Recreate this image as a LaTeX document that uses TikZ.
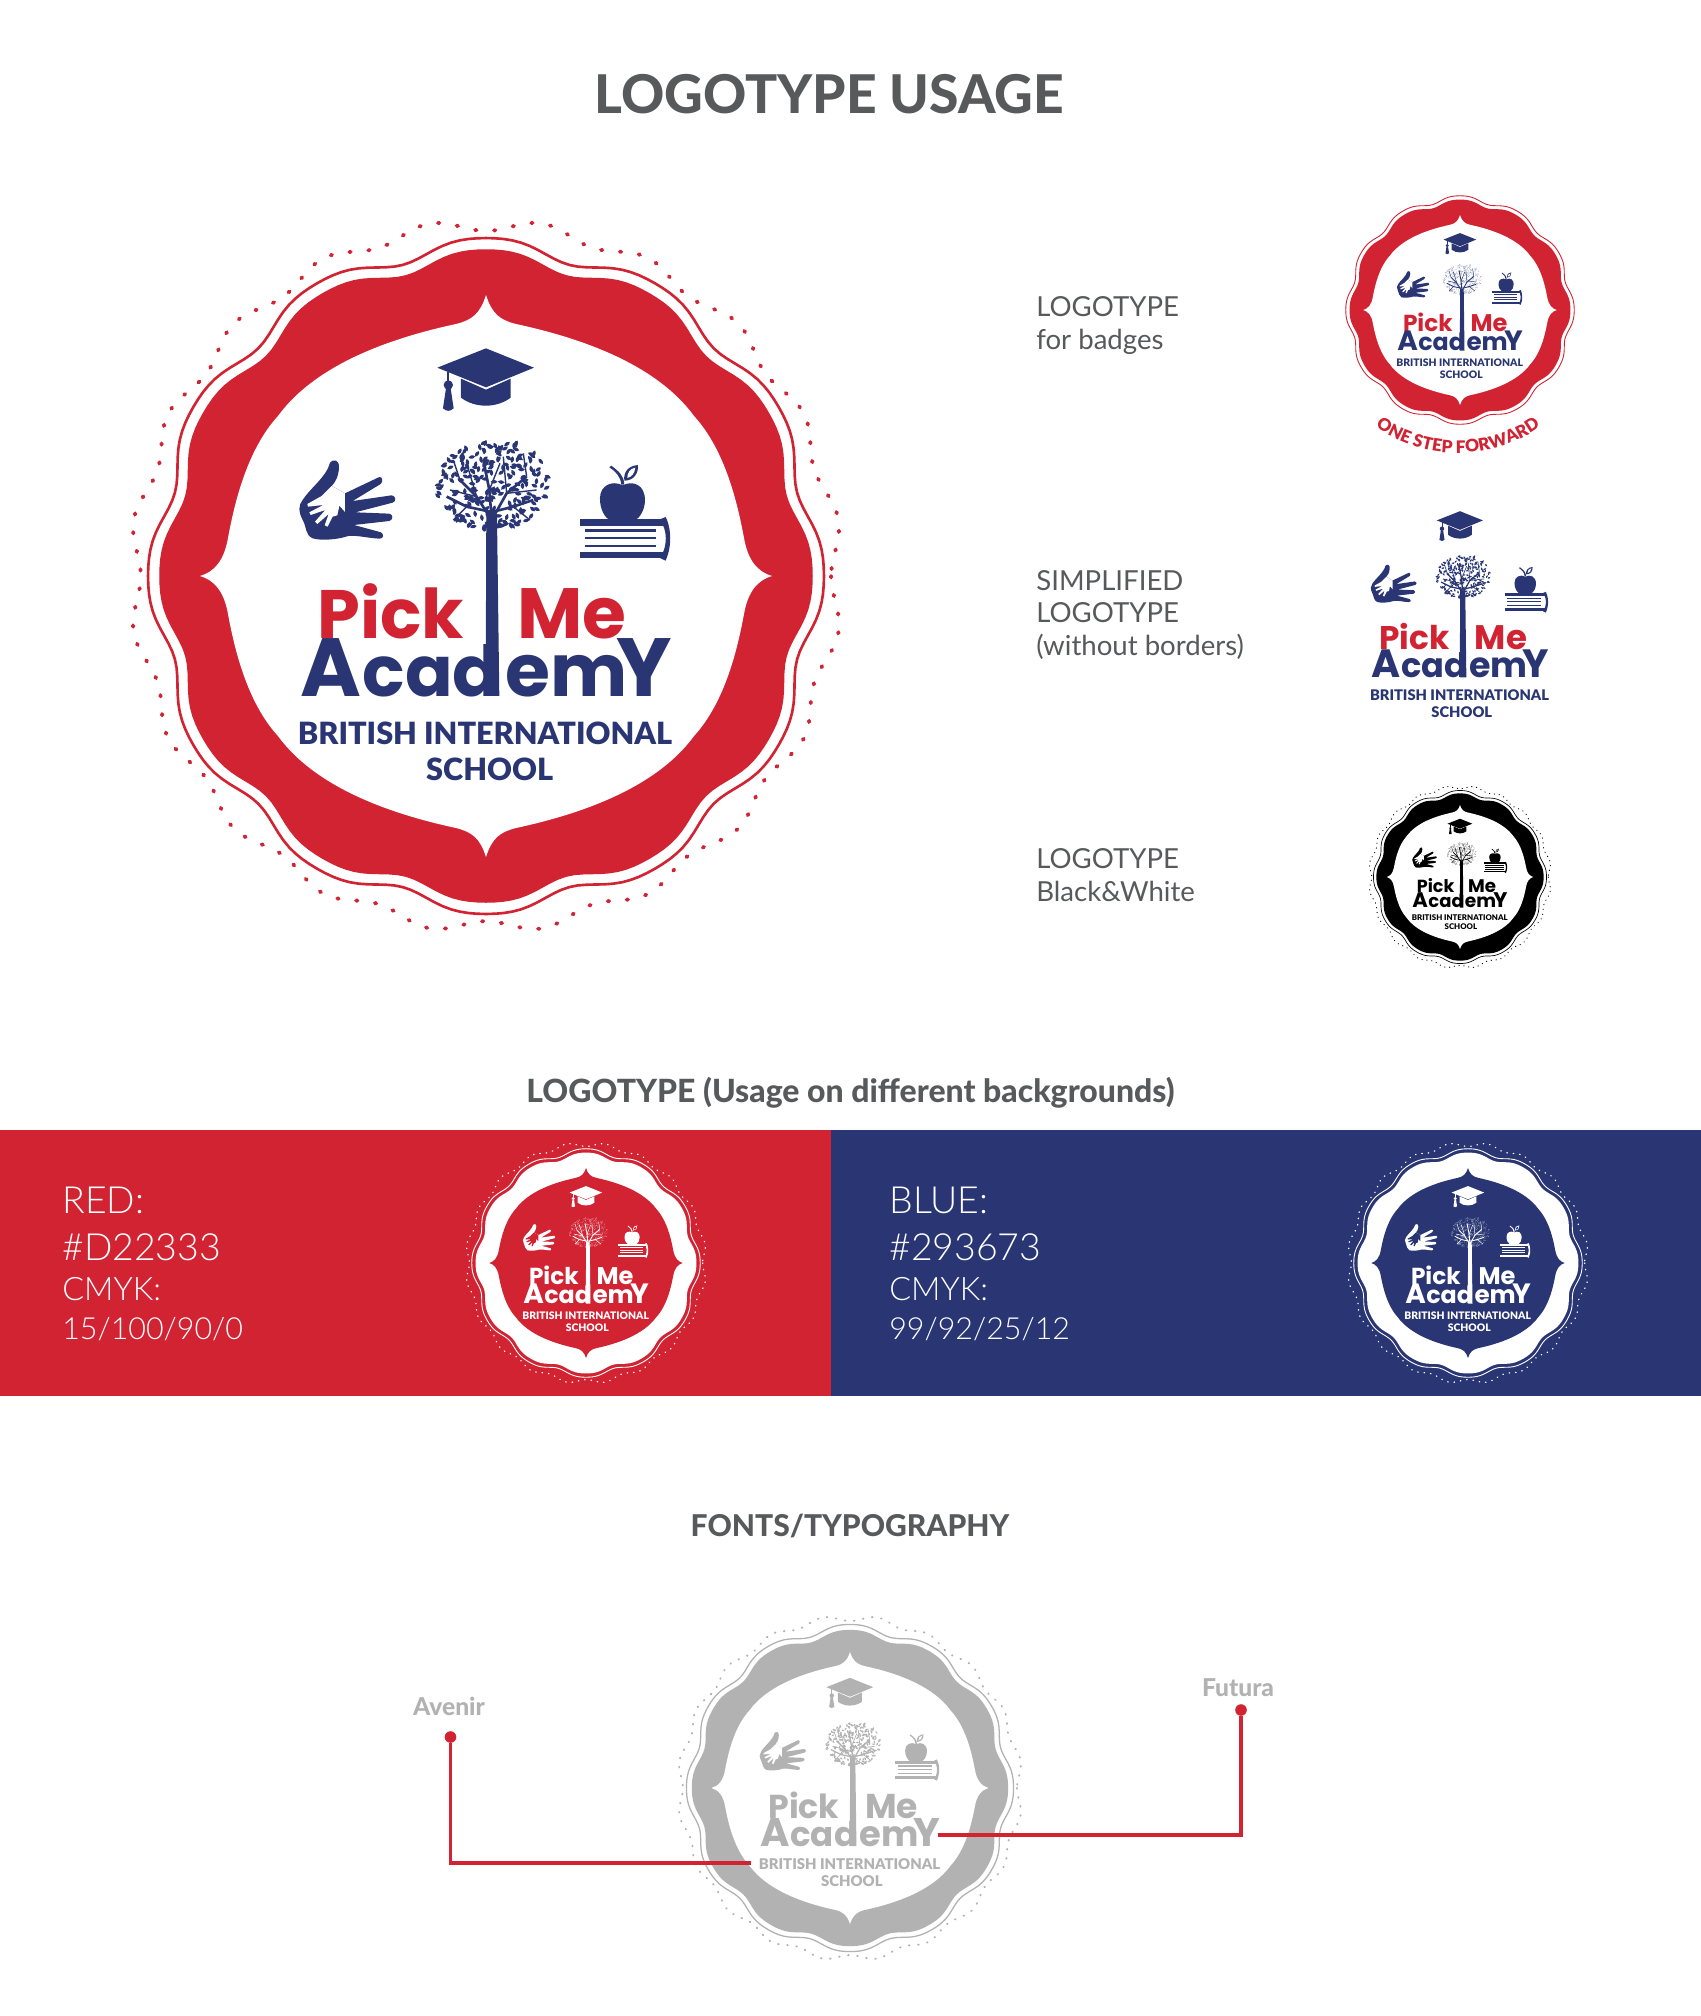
\documentclass[tikz,border=0pt]{standalone}
\usepackage{fontspec}
\usetikzlibrary{positioning, decorations.text}
\setmainfont{Lato}
\newfontfamily\logofont{Poppins}
\newfontfamily\lightfont{Lato Light}
\newfontfamily\heavyfont{Lato Black}
\newfontfamily\headfont{Lato Heavy}
\definecolor{brandred}{HTML}{D22333}
\definecolor{brandblue}{HTML}{293673}
\definecolor{inkgrey}{HTML}{58595B}
\definecolor{palegrey}{HTML}{B2B2B2}

% scalloped outline: mean radius, two amplitudes, turn
\newcommand{\scallop}[4]{plot[domain=0:360,samples=241]
  ({(#1)*(1+#2*cos(12*(\x+#4))+#3*cos(24*(\x+#4)))*cos(\x)},
   {(#1)*(1+#2*cos(12*(\x+#4))+#3*cos(24*(\x+#4)))*sin(\x)})}

% thin line, ring and inner field: x, y, scale, ring, inside, line
\newcommand{\logoring}[6]{%
  \pgfmathsetlengthmacro\ringwd{#3*1.5pt}
  \begin{scope}[shift={(#1,#2)},scale=#3]
    \draw[#6,line width=\ringwd] \scallop{331.5}{0.024}{-0.0045}{0} -- cycle;
    \fill[#4] \scallop{320.5}{0.024}{-0.0045}{0} -- cycle;
    \fill[#5] (0,-281) .. controls (6,-262) and (14,-256) .. (30,-252)
      .. controls (95,-238) and (170,-212) .. (208,-160)
      .. controls (240,-125) and (252,-70) .. (258,-38)
      .. controls (262,-15) and (272,-4) .. (286,0)
      .. controls (272,4) and (262,15) .. (258,38)
      .. controls (252,70) and (240,125) .. (208,160)
      .. controls (170,212) and (95,238) .. (30,252)
      .. controls (14,256) and (6,262) .. (0,281)
      .. controls (-6,262) and (-14,256) .. (-30,252)
      .. controls (-95,238) and (-170,212) .. (-208,160)
      .. controls (-240,125) and (-252,70) .. (-258,38)
      .. controls (-262,15) and (-272,4) .. (-286,0)
      .. controls (-272,-4) and (-262,-15) .. (-258,-38)
      .. controls (-252,-70) and (-240,-125) .. (-208,-160)
      .. controls (-170,-212) and (-95,-238) .. (-30,-252)
      .. controls (-14,-256) and (-6,-262) .. (0,-281) -- cycle;
  \end{scope}}

% dotted outer line: x, y, scale, colour
\newcommand{\logodots}[4]{%
  \pgfmathsetlengthmacro\dotwd{#3*2.2pt}
  \pgfmathsetlengthmacro\dotlen{#3*0.8pt}
  \pgfmathsetlengthmacro\dotgap{#3*10pt}
  \begin{scope}[shift={(#1,#2)},scale=#3]
    \draw[#4,line width=\dotwd,line cap=round,dash pattern=on \dotlen off \dotgap]
      plot[domain=0:360,samples=241] ({351*(1+0.017*cos(20*(\x+9)))*cos(\x)},{351*(1+0.017*cos(20*(\x+9)))*sin(\x)}) -- cycle;
  \end{scope}}

% cap, hand, tree, apple, book and words: name, x, y, scale, Pick Me, rest, inside
\newcommand{\logomark}[7]{%
  \pgfmathsetlengthmacro\branchwd{#4*1.5pt}
  \pgfmathsetlengthmacro\twigwd{#4*0.8pt}
  \begin{scope}[shift={(#2,#3)},scale=#4,transform shape]
    \begin{scope}[shift={(-206,-246)},scale=0.3333]
      % cap
      \fill[#6] (618,55) -- (762,113) -- (618,172) -- (472,113) -- cycle;
      \fill[#6] (543,146) -- (618,179) -- (692,146) -- (692,203)
        .. controls (650,235) and (585,235) .. (543,203) -- cycle;
      \fill[#6] (502,125) rectangle (508,155);
      \fill[#6] (505,165) circle (14);
      \fill[#6] (498,175) -- (512,175) -- (521,235) .. controls (510,245) and (500,245) .. (489,235) -- cycle;
      % hand
      \fill[#6] (150,398) .. controls (160,385) and (178,390) .. (177,412)
        .. controls (176,440) and (165,458) .. (155,468) -- (195,490) -- (298,441)
        .. controls (308,440) and (310,455) .. (302,462) -- (218,513) -- (335,496)
        .. controls (348,497) and (350,515) .. (338,518) -- (226,547) -- (328,551)
        .. controls (340,553) and (340,570) .. (328,573) -- (222,585) -- (303,607)
        .. controls (312,612) and (312,627) .. (298,626)
        .. controls (260,624) and (230,615) .. (205,618)
        .. controls (170,630) and (120,632) .. (98,625)
        .. controls (75,615) and (80,590) .. (68,570)
        .. controls (55,545) and (55,525) .. (68,510)
        .. controls (90,475) and (140,440) .. (150,398) -- cycle;
      \fill[#7] (155,468) -- (195,490) -- (195,547) -- (178,528) -- (172,556) -- (158,560)
        -- (143,590) -- (134,586) -- (146,552) -- (112,582) -- (105,575) -- (136,540)
        -- (92,555) -- (88,547) -- (130,525) -- (84,530) -- (82,522) -- (125,498) -- cycle;
      \fill[#6] (178,528) -- (195,547) -- (197,565) -- (182,568) -- cycle;
      % tree
      \fill[#6] (619,555) -- (651,555) -- (658,1098) -- (617,1098) -- cycle;
      \draw[#6,line width=\branchwd,line join=round] (632,565) -- (590,500) -- (540,450);
      \draw[#6,line width=\branchwd,line join=round] (638,565) -- (680,490) -- (740,440);
      \draw[#6,line width=\branchwd,line join=round] (635,565) -- (628,480) -- (610,390);
      \draw[#6,line width=\branchwd,line join=round] (640,545) -- (700,530) -- (760,510);
      \draw[#6,line width=\branchwd,line join=round] (630,545) -- (560,530) -- (500,500);
      \draw[#6,line width=\twigwd] (590,500) -- (560,400) (590,500) -- (510,480) (680,490) -- (670,380)
        (680,490) -- (770,480) (628,480) -- (660,400) (540,450) -- (520,390) (740,440) -- (730,370)
        (560,530) -- (520,570) (700,530) -- (750,570);
      \pgfmathsetseed{2718}
      \foreach \leafi in {1,...,250}{
        \pgfmathsetmacro\leafr{sqrt(rnd)}
        \pgfmathsetmacro\leafa{360*rnd}
        \pgfmathsetmacro\leaft{360*rnd}
        \fill[#6,shift={({640+172*\leafr*cos(\leafa)},{465+136*\leafr*sin(\leafa)})},rotate=\leaft]
          (-10,0) .. controls (-3,-7) and (3,-7) .. (10,0) .. controls (3,7) and (-3,7) .. (-10,0) -- cycle;
      }
      % apple
      \fill[#6] (1028,466) .. controls (1060,450) and (1095,465) .. (1095,510)
        .. controls (1095,540) and (1080,562) .. (1065,572) -- (990,572)
        .. controls (975,562) and (960,540) .. (960,505)
        .. controls (960,465) and (998,450) .. (1028,466) -- cycle;
      \fill[#6] (988,412) -- (994,407) .. controls (1018,425) and (1032,438) .. (1033,464)
        -- (1024,464) .. controls (1022,440) and (1008,425) .. (988,412) -- cycle;
      \fill[#6] (1033,452) .. controls (1030,425) and (1045,408) .. (1074,405)
        .. controls (1076,432) and (1060,452) .. (1033,452) -- cycle;
      \fill[#7] (1042,444) .. controls (1042,428) and (1050,416) .. (1066,413)
        .. controls (1064,430) and (1056,440) .. (1042,444) -- cycle;
      % book
      \fill[#6] (899,568) rectangle (1150,588);
      \fill[#6] (899,665) rectangle (1150,684);
      \fill[#6] (916,598) rectangle (1128,605);
      \fill[#6] (916,620) rectangle (1128,627);
      \fill[#6] (916,644) rectangle (1128,651);
      \fill[#6] (1140,568) -- (1157,561) .. controls (1170,585) and (1180,640) .. (1157,692)
        -- (1140,684) -- (1150,665) .. controls (1160,640) and (1160,610) .. (1150,588) -- cycle;
    \end{scope}
    % words
    \node[anchor=base west,inner sep=0pt,font=\logofont\bfseries\fontsize{39}{39}\selectfont,text=#5] (#1pick) at (-169,62.3) {Pick};
    \node[anchor=base west,inner sep=0pt,font=\logofont\bfseries\fontsize{40.5}{40.5}\selectfont,text=#5] (#1me) at (31,62.3) {Me};
    \node[anchor=base west,inner sep=0pt,font=\logofont\bfseries\fontsize{47}{47}\selectfont,text=#6] (#1a) at (-186,120) {A};
    \node[anchor=base east,inner sep=0pt,font=\logofont\bfseries\fontsize{40}{40}\selectfont,text=#6] (#1cad) at (15,120) {cad};
    \node[anchor=base west,inner sep=0pt,font=\logofont\bfseries\fontsize{41.5}{41.5}\selectfont,text=#6] (#1em) at (19,120) {em};
    \node[anchor=base east,inner sep=0pt,font=\logofont\bfseries\fontsize{47}{47}\selectfont,text=#6] (#1y) at (186.5,120) {Y};
    \node[anchor=base,inner sep=0pt,font=\heavyfont\fontsize{17.45}{17.45}\selectfont,text=#6] (#1british) at (-1,168) {BRITISH INTERNATIONAL};
    \node[anchor=base,inner sep=0pt,font=\heavyfont\fontsize{17.45}{17.45}\selectfont,text=#6] (#1school) at (3.7,204) {SCHOOL};
  \end{scope}}

\tikzset{
  headtext/.style={font=\headfont\fontsize{18.2}{18.2}\selectfont,text=inkgrey,inner sep=0pt},
  sidetext/.style={anchor=base west,align=left,inner sep=0pt,text=inkgrey,font=\fontsize{15.7}{18.4}\selectfont},
  bandbig/.style={anchor=base west,inner sep=0pt,text=white,font=\lightfont\fontsize{21.3}{21}\selectfont},
  bandsmall/.style={anchor=base west,inner sep=0pt,text=white,font=\lightfont\fontsize{18.4}{18}\selectfont},
  bandvalue/.style={anchor=base west,inner sep=0pt,text=white,font=\lightfont\fontsize{17.3}{18}\selectfont},
  fontname/.style={font=\headfont\fontsize{14}{14}\selectfont,text=palegrey,inner sep=0pt},
  fontdot/.style={circle,fill=brandred,inner sep=0pt,minimum size=6.6pt},
  fontline/.style={draw=brandred,line width=1.9pt}
}

\begin{document}
\begin{tikzpicture}[x=0.02cm,y=-0.02cm]
\useasboundingbox (0,0) rectangle (1701,2016);
\fill[white] (0,0) rectangle (1701,2016);

% Title
\node[headtext,font=\headfont\fontsize{30.4}{30.4}\selectfont] (title) at (829,94) {LOGOTYPE USAGE};

% Large logotype
\logodots{486}{576}{1}{brandred}
\logoring{486}{576}{1}{brandred}{white}{brandred}
\logomark{big}{486}{576}{1}{brandred}{brandblue}{white}

% Right column
\node[sidetext] (labelbadge) at (1036,349) {LOGOTYPE\\for badges};
\logoring{1460}{310}{0.338}{brandred}{white}{brandred}
\logomark{badge}{1460}{310}{0.338}{brandred}{brandblue}{white}
\path[decorate,decoration={text along path,text align=center,
    text={|\heavyfont\fontsize{9.8}{9.8}\selectfont\color{brandred}|ONE STEP FORWARD}}]
  plot[domain=-40:40,samples=61] ({1458+142*sin(\x)},{311+142*cos(\x)});

\node[sidetext] (labelsimple) at (1036,655) {SIMPLIFIED\\LOGOTYPE\\(without borders)};
\logomark{simple}{1460}{620}{0.478}{brandred}{brandblue}{white}

\node[sidetext] (labelblack) at (1036,901) {LOGOTYPE\\Black\&White};
\logodots{1460}{877}{0.256}{black}
\logoring{1460}{877}{0.256}{black}{white}{black}
\logomark{black}{1460}{877}{0.256}{black}{black}{white}

% Backgrounds
\node[headtext] (headback) at (850.5,1093) {LOGOTYPE (Usage on different backgrounds)};
\fill[brandred] (0,1130) rectangle (831,1396);
\fill[brandblue] (831,1130) rectangle (1701,1396);

\node[bandbig] (redname) at (62,1213) {RED:};
\node[bandbig] (redhex) at (62,1260) {\#D22333};
\node[bandsmall] (redcmyk) at (62,1300) {CMYK:};
\node[bandvalue] (redvalue) at (62,1339) {15/100/90/0};
\logodots{586}{1263}{0.338}{white}
\logoring{586}{1263}{0.338}{white}{brandred}{white}
\logomark{onred}{586}{1263}{0.338}{white}{white}{brandred}

\node[bandbig] (bluename) at (889,1213) {BLUE:};
\node[bandbig] (bluehex) at (889,1260) {\#293673};
\node[bandsmall] (bluecmyk) at (889,1300) {CMYK:};
\node[bandvalue] (bluevalue) at (889,1339) {99/92/25/12};
\logodots{1468}{1263}{0.338}{white}
\logoring{1468}{1263}{0.338}{white}{brandblue}{white}
\logomark{onblue}{1468}{1263}{0.338}{white}{white}{brandblue}

% Typography
\node[headtext,font=\headfont\fontsize{17.1}{17.1}\selectfont] (headfonts) at (850,1526) {FONTS/TYPOGRAPHY};
\logodots{850}{1788}{0.484}{palegrey}
\logoring{850}{1788}{0.484}{palegrey}{white}{palegrey}
\logomark{grey}{850}{1788}{0.484}{palegrey}{palegrey}{white}

\node[fontname] (avenir) at (449,1706) {Avenir};
\node[fontname] (futura) at (1238,1688) {Futura};
\node[fontdot] (avenirdot) at (450.5,1737) {};
\node[fontdot] (futuradot) at (1241,1710) {};
\coordinate (avenirend) at (751,1863);
\coordinate (futuraend) at (938,1835);
\draw[fontline] (avenirdot) |- (avenirend);
\draw[fontline] (futuradot) |- (futuraend);

\end{tikzpicture}
\end{document}
